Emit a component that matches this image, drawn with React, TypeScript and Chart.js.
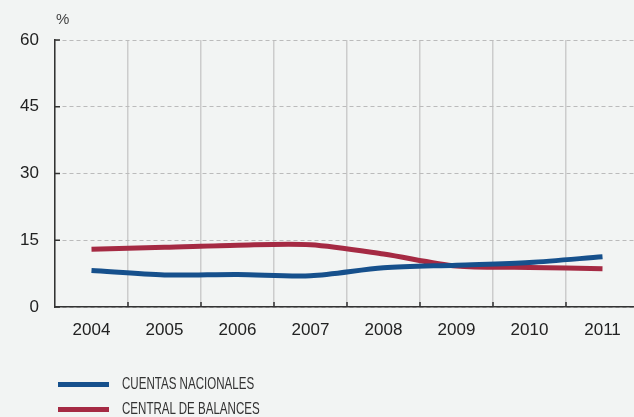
import React, { useEffect, useRef } from "react";
import { Chart, registerables } from "chart.js";

Chart.register(...registerables);

const years = ["2004", "2005", "2006", "2007", "2008", "2009", "2010", "2011"];
const cuentasNacionales = [8.2, 7.2, 7.3, 7.0, 8.8, 9.4, 10.0, 11.3];
const centralBalances = [13.0, 13.4, 13.9, 14.0, 11.9, 9.2, 8.9, 8.6];
const yTicks = [0, 15, 30, 45, 60];
const seriesNames = ["CUENTAS NACIONALES", "CENTRAL DE BALANCES"];
const seriesColors = ["#16508c", "#a52a43"];
const unitLabel = "%";

const BG = "#f2f4f3";
const FONT = "'Liberation Sans', Arial, sans-serif";

const innerTicks = {
  id: "innerTicks",
  afterDraw(chart: any) {
    const { ctx, chartArea, scales } = chart;
    const xs = scales.x;
    const ys = scales.y;
    ctx.save();
    ctx.strokeStyle = "#333333";
    ctx.lineWidth = 1.5;
    ctx.beginPath();
    ys.ticks.forEach((t: any) => {
      const y = ys.getPixelForValue(t.value);
      ctx.moveTo(chartArea.left, y);
      ctx.lineTo(chartArea.left + 5, y);
    });
    const n = xs.ticks.length;
    for (let i = 1; i < n; i++) {
      const x = (xs.getPixelForValue(i - 1) + xs.getPixelForValue(i)) / 2;
      ctx.moveTo(x, chartArea.bottom);
      ctx.lineTo(x, chartArea.bottom - 5);
    }
    ctx.stroke();
    ctx.restore();
  },
};

export default function App() {
  const canvasRef = useRef<HTMLCanvasElement | null>(null);

  useEffect(() => {
    const canvas = canvasRef.current;
    if (!canvas) return;
    const chart = new Chart(canvas, {
      type: "line",
      data: {
        labels: years,
        datasets: [
          {
            label: seriesNames[0],
            data: cuentasNacionales,
            borderColor: seriesColors[0],
            backgroundColor: seriesColors[0],
            borderWidth: 5,
            pointRadius: 0,
            tension: 0.3,
            borderCapStyle: "butt",
          },
          {
            label: seriesNames[1],
            data: centralBalances,
            borderColor: seriesColors[1],
            backgroundColor: seriesColors[1],
            borderWidth: 5,
            pointRadius: 0,
            tension: 0.3,
            borderCapStyle: "butt",
          },
        ],
      },
      options: {
        animation: false,
        responsive: true,
        maintainAspectRatio: false,
        layout: { padding: { top: 40, right: 0, left: 0, bottom: 0 } },
        plugins: {
          legend: { display: false },
          tooltip: { enabled: false },
        },
        scales: {
          x: {
            offset: true,
            grid: {
              offset: true,
              color: "#cccccc",
              lineWidth: 1.5,
              drawTicks: false,
            },
            border: { color: "#333333", width: 1.5 },
            ticks: {
              color: "#222222",
              font: { family: FONT, size: 17 },
              padding: 13,
              maxRotation: 0,
              autoSkip: false,
            },
            afterFit: (scale: any) => {
              scale.height = 110;
            },
          },
          y: {
            min: 0,
            max: 60,
            afterBuildTicks: (scale: any) => {
              scale.ticks = yTicks.map((v) => ({ value: v }));
            },
            grid: {
              color: "#bbbbbb",
              lineWidth: 1,
              drawTicks: false,
            },
            border: { color: "#333333", width: 1.5, dash: [4, 3] },
            ticks: {
              color: "#222222",
              font: { family: FONT, size: 17 },
              padding: 16,
            },
            afterFit: (scale: any) => {
              scale.width = 55;
            },
          },
        },
      },
      plugins: [innerTicks],
    });
    return () => chart.destroy();
  }, []);

  return (
    <div
      style={{
        position: "absolute",
        left: 0,
        top: 0,
        width: 634,
        height: 417,
        background: BG,
        overflow: "hidden",
      }}
    >
      <div style={{ position: "absolute", left: 0, top: 0, width: 639, height: 417 }}>
        <canvas ref={canvasRef} />
      </div>
      <div
        style={{
          position: "absolute",
          left: 56,
          top: 10,
          fontFamily: FONT,
          fontSize: 15,
          color: "#444",
          lineHeight: "18px",
        }}
      >
        {unitLabel}
      </div>
      {seriesNames.map((name, i) => (
        <div
          key={name}
          style={{
            position: "absolute",
            left: 58,
            top: 374 + i * 25,
            height: 20,
            display: "flex",
            alignItems: "center",
            whiteSpace: "nowrap",
          }}
        >
          <div style={{ width: 51, height: 5, background: seriesColors[i] }} />
          <div
            style={{
              marginLeft: 13,
              fontFamily: FONT,
              fontSize: 17,
              color: "#333",
              transform: "scaleX(0.68)",
              transformOrigin: "left center",
              lineHeight: "20px",
            }}
          >
            {name}
          </div>
        </div>
      ))}
    </div>
  );
}
